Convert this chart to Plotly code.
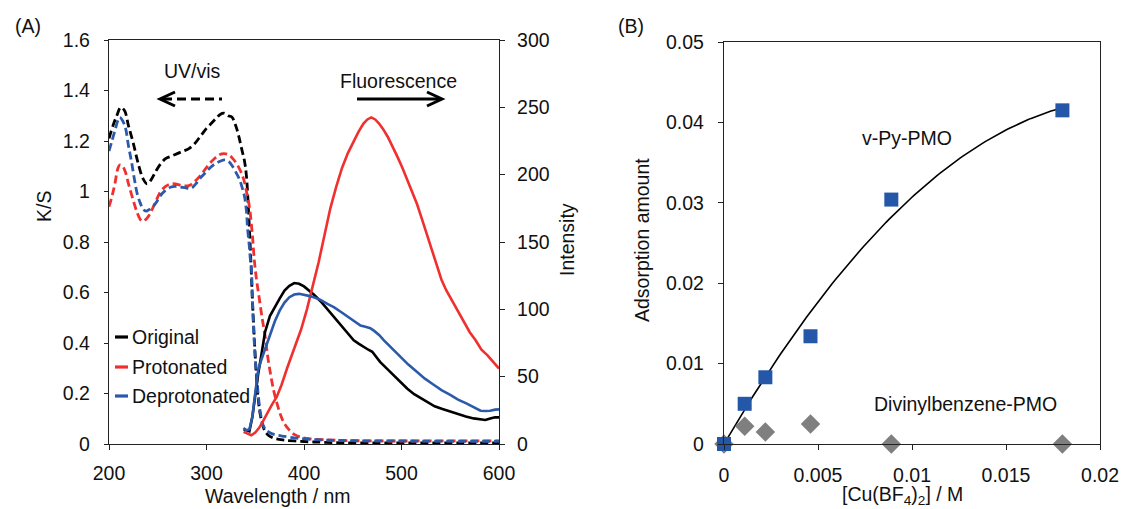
import numpy as np
import plotly.graph_objects as go

W, H = 1133, 509

# ---------------- Panel A data ----------------
wl_orig_ks = [200, 204, 208, 212, 216, 220, 225, 230, 235, 239, 243, 248, 253, 258, 264, 270, 276, 282, 288, 294,
              300, 305, 310, 314, 318, 322, 326, 330, 333, 336, 339, 341, 343, 345, 347, 349, 351, 353, 355, 358,
              361, 365, 370, 378, 390, 410, 440, 480, 520, 560, 600]
ks_orig = [1.21, 1.26, 1.30, 1.333, 1.32, 1.26, 1.19, 1.11, 1.05, 1.03, 1.045, 1.08, 1.11, 1.13, 1.14, 1.15, 1.16,
           1.17, 1.19, 1.22, 1.25, 1.27, 1.29, 1.305, 1.31, 1.30, 1.295, 1.26, 1.22, 1.17, 1.12, 1.06, 0.93, 0.77,
           0.58, 0.42, 0.28, 0.18, 0.12, 0.07, 0.045, 0.03, 0.022, 0.016, 0.012, 0.008, 0.005, 0.004, 0.004, 0.004,
           0.004]

wl_prot_ks = [200, 203, 206, 209, 211, 214, 217, 220, 223, 226, 229, 232, 235, 238, 241, 245, 249, 253, 258, 263,
              268, 273, 278, 283, 288, 293, 298, 303, 308, 313, 318, 323, 327, 331, 335, 338, 341, 344, 347, 349,
              351, 354, 357, 360, 363, 366, 369, 372, 376, 380, 385, 390, 396, 405, 420, 440, 480, 520, 560, 600]
ks_prot = [0.94, 0.98, 1.03, 1.09, 1.105, 1.10, 1.075, 1.03, 0.99, 0.95, 0.915, 0.89, 0.882, 0.89, 0.905, 0.935,
           0.97, 1.0, 1.02, 1.03, 1.03, 1.025, 1.022, 1.025, 1.04, 1.06, 1.085, 1.11, 1.13, 1.145, 1.15, 1.145,
           1.13, 1.11, 1.08, 1.05, 1.0, 0.94, 0.83, 0.73, 0.66, 0.58, 0.50, 0.43, 0.34, 0.27, 0.21, 0.165, 0.115,
           0.08, 0.055, 0.038, 0.028, 0.021, 0.017, 0.014, 0.012, 0.012, 0.012, 0.012]

wl_depr_ks = [200, 203, 206, 209, 211, 214, 217, 220, 223, 226, 229, 232, 235, 238, 241, 245, 249, 253, 258, 263,
              268, 273, 278, 284, 289, 294, 299, 304, 309, 314, 319, 323, 327, 331, 334, 337, 339, 341, 342, 344,
              345, 346, 347, 348.5, 350, 352, 354, 356, 358, 361, 365, 370, 380, 395, 420, 450, 500, 550, 600]
ks_depr = [1.16, 1.2, 1.24, 1.28, 1.294, 1.28, 1.25, 1.18, 1.12, 1.05, 0.99, 0.955, 0.93, 0.922, 0.928, 0.94,
           0.96, 0.985, 1.005, 1.017, 1.02, 1.018, 1.015, 1.012, 1.03, 1.055, 1.075, 1.095, 1.11, 1.12, 1.125,
           1.118, 1.098, 1.07, 1.046, 1.01, 0.98, 0.92, 0.86, 0.78, 0.73, 0.70, 0.58, 0.44, 0.34, 0.24, 0.16,
           0.108, 0.075, 0.055, 0.045, 0.037, 0.03, 0.022, 0.016, 0.013, 0.012, 0.011, 0.011]

wl_orig_fl = [338, 341, 344, 347, 350, 353, 356, 360, 365, 370, 375, 380, 385, 390, 395, 400, 405, 410, 417, 424,
              431, 438, 445, 451, 456, 461, 466, 470, 474, 478, 485, 492, 499, 506, 513, 520, 527, 534, 542, 550,
              558, 566, 574, 581, 586, 591, 596, 600]
fl_orig = [11, 10, 9.5, 20, 38, 52, 65, 83, 95, 102, 108, 114, 117.5, 119.5, 119, 117, 114, 111, 106, 100, 94, 88,
           82, 77, 74.5, 72, 70, 68.5, 65, 61, 56, 51, 46, 41, 37, 34, 31, 28, 26, 24, 22, 20.5, 19, 18, 17.8, 19,
           19.8, 19.8]

wl_prot_fl = [338, 342, 346, 350, 354, 358, 362, 367, 372, 377, 383, 390, 397, 403, 409, 415, 421, 427, 433, 439,
              445, 451, 456, 461, 465, 469, 473, 477, 481, 486, 491, 496, 501, 506, 511, 516, 521, 526, 531, 536,
              541, 546, 552, 558, 564, 570, 576, 582, 588, 594, 600]
fl_prot = [9, 7.5, 6.5, 8.5, 12, 17, 22.5, 29, 35, 44, 57, 71, 85, 100, 117, 135, 155, 175, 191, 205, 216, 225,
           232, 238, 241, 242.5, 241, 238, 234, 228, 221, 213, 205, 196, 187, 178, 167, 156, 145, 134, 122, 114,
           106, 98, 90, 83, 77, 70, 66, 61, 56]

wl_depr_fl = [338, 341, 344, 347, 349, 351, 353, 356, 359, 362, 366, 370, 375, 380, 385, 390, 395, 400, 405, 410,
              417, 424, 431, 438, 445, 451, 458, 463, 468, 472, 477, 482, 490, 499, 507, 516, 524, 533, 541, 550,
              558, 567, 575, 581, 586, 591, 596, 600]
fl_depr = [12, 10, 11, 20, 32, 45, 55, 62, 68, 74, 83, 91, 99, 105, 109, 111, 111.5, 111, 110, 109, 107, 104,
           101.5, 98, 94.5, 91, 88, 87, 86, 84, 81, 77, 71, 64.5, 59, 53.5, 48.5, 44, 40, 36.5, 33, 30, 27, 24.7,
           24.5, 24.7, 25.5, 25.7]

series_names = ["Original", "Protonated", "Deprotonated"]

# ---------------- Panel B data ----------------
cu_conc = [0, 0.0011, 0.0022, 0.0046, 0.0089, 0.018]
ads_vpy = [0, 0.0050, 0.0083, 0.0134, 0.0304, 0.0415]
ads_dvb = [0, 0.0022, 0.0015, 0.0025, 0.0, 0.0]

# ---------------- styling ----------------
BLACK = "#000000"
RED = "#f0302f"
BLUE = "#2c5aab"
SQ = "#2457a8"
GRAY = "#7f7f7f"
FONT = "Liberation Sans, Arial, sans-serif"
FS = 19.5
colors = [BLACK, RED, BLUE]


def px(x):
    return x / W


def py(y):
    return 1 - y / H


fig = go.Figure()

ks_sets = [(wl_orig_ks, ks_orig), (wl_prot_ks, ks_prot), (wl_depr_ks, ks_depr)]
fl_sets = [(wl_orig_fl, fl_orig), (wl_prot_fl, fl_prot), (wl_depr_fl, fl_depr)]

for (wx, wy), c, n in zip(fl_sets, colors, series_names):
    fig.add_trace(go.Scatter(x=wx, y=wy, mode="lines", name=n + " (fluorescence)",
                             line=dict(color=c, width=2.6), xaxis="x", yaxis="y2", showlegend=False))
for (wx, wy), c, n in zip(ks_sets, colors, series_names):
    fig.add_trace(go.Scatter(x=wx, y=wy, mode="lines", name=n, line_shape="spline",
                             line=dict(color=c, width=2.8, dash="8px,4px"), xaxis="x", yaxis="y",
                             showlegend=False))

# Panel B: quadratic trendline through origin (least squares from the data)
cx = np.array(cu_conc[1:])
cy = np.array(ads_vpy[1:])
A = np.vstack([cx, cx ** 2]).T
coef, *_ = np.linalg.lstsq(A, cy, rcond=None)
xfit = np.linspace(0, max(cu_conc), 120)
yfit = coef[0] * xfit + coef[1] * xfit ** 2

fig.add_trace(go.Scatter(x=xfit, y=yfit, mode="lines", line=dict(color=BLACK, width=1.6),
                         xaxis="x2", yaxis="y3", showlegend=False, name="fit"))
fig.add_trace(go.Scatter(x=cu_conc, y=ads_dvb, mode="markers", name="Divinylbenzene-PMO",
                         marker=dict(symbol="diamond", size=15, color=GRAY), cliponaxis=False,
                         xaxis="x2", yaxis="y3", showlegend=False))
fig.add_trace(go.Scatter(x=cu_conc, y=ads_vpy, mode="markers", name="v-Py-PMO",
                         marker=dict(symbol="square", size=14, color=SQ), cliponaxis=False,
                         xaxis="x2", yaxis="y3", showlegend=False))

axis_common = dict(showgrid=False, zeroline=False, showline=True, linecolor="#222", linewidth=1.3,
                   ticks="outside", tickcolor="#222", tickwidth=1.3, automargin=False,
                   tickfont=dict(family=FONT, size=FS, color="#111"))

fig.update_layout(
    template="none",
    width=W, height=H, margin=dict(l=0, r=0, t=0, b=0, pad=0, autoexpand=False),
    paper_bgcolor="white", plot_bgcolor="white",
    font=dict(family=FONT, size=FS, color="#111"),
    xaxis=dict(domain=[px(109), px(499)], range=[200, 600], dtick=100, tick0=200, ticklen=5,
               mirror=True, anchor="y", ticklabelstandoff=6, **axis_common),
    yaxis=dict(domain=[py(444), py(40)], range=[0, 1.6], dtick=0.2, ticklen=4, anchor="x",
               ticklabelstandoff=10, **axis_common),
    yaxis2=dict(domain=[py(444), py(40)], range=[0, 300], dtick=50, ticklen=5, overlaying="y",
                side="right", anchor="x", ticklabelstandoff=8, **axis_common),
    xaxis2=dict(domain=[px(724), px(1100)], range=[0, 0.02], dtick=0.005, tick0=0, ticklen=5,
                mirror=True, anchor="y3", ticklabelstandoff=8, **axis_common),
    yaxis3=dict(domain=[py(444), py(42)], range=[0, 0.05], dtick=0.01, ticklen=5, mirror=True,
                anchor="x2", ticklabelstandoff=10, **axis_common),
)

ann = []


def text(x, y, s, angle=0, xanchor="center", size=FS):
    ann.append(dict(x=px(x), y=py(y), xref="paper", yref="paper", text=s, showarrow=False,
                    textangle=angle, xanchor=xanchor, yanchor="middle",
                    font=dict(family=FONT, size=size, color="#111")))


text(28, 26, "(A)")
text(631, 26, "(B)")
text(192, 71, "UV/vis")
text(398, 81, "Fluorescence")
text(44, 206, "K/S", angle=-90)
text(567, 240, "Intensity", angle=-90)
text(278, 496, "Wavelength / nm")
text(642, 240, "Adsorption amount", angle=-90)
text(902, 495, "[Cu(BF<sub>4</sub>)<sub>2</sub>] / M")
text(907, 138, "v-Py-PMO")
text(965, 404, "Divinylbenzene-PMO")

# custom legend for panel A
shapes = []
leg_y = [337, 367, 396]
for yy, c, n in zip(leg_y, colors, series_names):
    shapes.append(dict(type="line", xref="paper", yref="paper", x0=px(115), x1=px(128), y0=py(yy), y1=py(yy),
                       line=dict(color=c, width=3.2)))
    text(130, yy, n, xanchor="left")

# arrows
shapes.append(dict(type="line", xref="paper", yref="paper", x0=px(163), x1=px(222), y0=py(99), y1=py(99),
                   line=dict(color=BLACK, width=3, dash="9px,5px")))
shapes.append(dict(type="path", xref="paper", yref="paper",
                   path=f"M {px(175)} {py(92)} L {px(160)} {py(99)} L {px(175)} {py(106)}",
                   line=dict(color=BLACK, width=3)))
shapes.append(dict(type="line", xref="paper", yref="paper", x0=px(357), x1=px(440), y0=py(99), y1=py(99),
                   line=dict(color=BLACK, width=3)))
shapes.append(dict(type="path", xref="paper", yref="paper",
                   path=f"M {px(427)} {py(92)} L {px(442)} {py(99)} L {px(427)} {py(106)}",
                   line=dict(color=BLACK, width=3)))

fig.update_layout(annotations=ann, shapes=shapes)

fig.write_html("out.html", config={"displayModeBar": False},
               post_script="document.body.style.margin='0';document.body.style.overflow='hidden';")
